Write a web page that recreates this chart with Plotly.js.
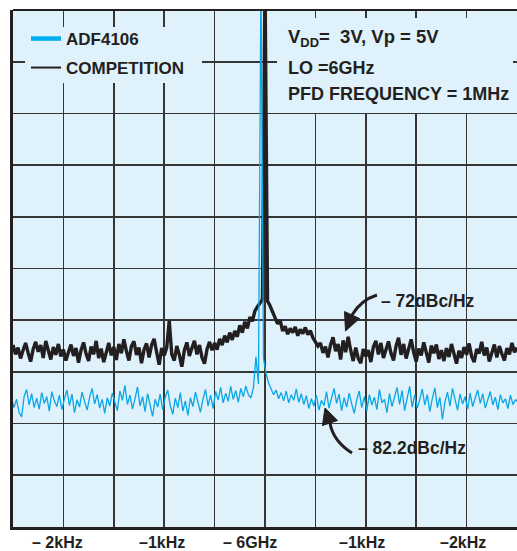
<!DOCTYPE html>
<html>
<head>
<meta charset="utf-8">
<script src="https://cdn.plot.ly/plotly-3.0.1.min.js"></script>
<style>html,body{margin:0;padding:0;background:#fff;}#chart{width:517px;height:551px;}</style>
</head>
<body>
<div id="chart"></div>
<script>
// ---- data ----
const competitionStartHz = -2500;
const adf4106StartHz = -2540;
const sweepStepHz = 25;

const competitionDbc = [
-71.0,-72.8,-71.5,-73.6,-72.0,-70.6,-72.5,-74.2,-71.8,-70.4,
-72.3,-71.0,-73.5,-70.2,-72.0,-73.8,-71.4,-72.9,-70.8,-73.2,
-71.9,-74.0,-72.4,-70.9,-73.1,-71.6,-74.4,-72.0,-70.5,-72.7,
-74.1,-71.3,-72.8,-70.2,-73.5,-71.7,-74.3,-72.1,-70.6,-73.0,
-71.4,-73.9,-70.8,-72.6,-69.9,-72.2,-74.0,-71.2,-70.3,-72.9,
-71.5,-74.5,-71.9,-70.7,-73.4,-71.0,-69.8,-72.4,-74.8,-71.6,
-73.0,-71.5,-66.3,-72.8,-74.0,-71.2,-72.9,-75.2,-72.0,-70.5,
-73.1,-71.6,-70.2,-72.8,-71.0,-73.4,-74.6,-71.8,-70.4,-72.0,
-70.6,-71.9,-69.8,-71.0,-69.2,-70.5,-68.6,-70.0,-68.3,-69.4,
-67.2,-68.6,-66.5,-67.8,-65.6,-66.4,-64.4,-63.6,-62.8,-62.2,
0.0,
-62.5,-63.4,-64.6,-65.8,-66.9,-66.2,-68.3,-67.4,-68.9,-67.8,
-68.6,-67.5,-69.2,-68.0,-68.8,-67.6,-69.0,-68.2,-69.6,-70.4,
-71.2,-70.6,-72.5,-71.3,-73.4,-71.0,-69.5,-72.2,-70.8,-73.8,
-70.1,-72.4,-69.4,-72.0,-74.1,-71.5,-73.6,-74.5,-71.8,-73.2,
-72.0,-74.3,-71.4,-70.2,-72.8,-70.6,-73.5,-71.9,-70.3,-72.6,
-74.0,-71.2,-69.6,-72.9,-70.8,-73.6,-71.5,-69.9,-72.4,-74.2,
-71.7,-73.0,-70.5,-72.8,-74.4,-71.1,-72.6,-70.9,-73.7,-72.0,
-74.1,-71.6,-73.3,-70.8,-72.5,-74.6,-72.1,-73.5,-71.4,-72.9,
-70.7,-73.2,-74.3,-71.8,-72.6,-70.4,-73.0,-71.5,-74.2,-72.3,
-70.9,-73.4,-71.2,-72.7,-74.0,-71.6,-72.8,-70.6,-72.4,-71.5
];

const adf4106Dbc = [
-82.0,-81.2,-83.1,-81.5,-84.0,-84.9,-81.0,-79.6,-82.6,-80.4,
-83.1,-81.3,-83.4,-80.2,-82.3,-81.0,-83.8,-80.0,-81.8,-82.9,
-80.7,-83.5,-81.4,-79.7,-82.7,-80.5,-84.1,-81.6,-83.0,-80.1,
-81.9,-83.6,-81.1,-79.4,-82.4,-80.6,-83.2,-81.5,-84.2,-81.2,
-82.8,-80.3,-82.0,-83.7,-79.9,-81.7,-78.8,-82.5,-80.7,-83.4,
-81.4,-79.1,-82.8,-81.0,-83.9,-80.4,-82.6,-84.8,-81.5,-83.0,
-80.5,-83.5,-81.1,-79.7,-82.7,-84.4,-81.3,-83.1,-80.2,-83.8,
-81.8,-84.6,-81.2,-82.9,-80.1,-82.2,-84.0,-81.4,-79.6,-82.8,
-80.7,-83.3,-80.0,-81.6,-79.2,-82.2,-80.3,-81.9,-79.0,-81.5,
-79.8,-82.1,-79.4,-81.0,-78.9,-80.6,-81.2,-79.3,-73.3,-78.6,
0.0,
-73.6,-76.5,-78.3,-79.5,-80.6,-79.7,-81.4,-80.2,-81.8,-79.9,
-82.2,-80.6,-81.7,-79.5,-82.1,-80.4,-82.5,-80.8,-83.3,-81.4,
-82.8,-80.7,-83.6,-81.7,-82.7,-80.0,-83.2,-81.3,-79.4,-82.3,
-80.5,-83.7,-81.2,-83.0,-80.3,-82.4,-84.2,-81.6,-79.9,-83.1,
-81.0,-83.8,-80.6,-82.6,-81.1,-83.5,-79.6,-82.2,-81.5,-84.1,
-80.4,-82.9,-81.2,-79.2,-82.5,-79.8,-83.7,-81.4,-79.0,-83.0,
-80.7,-83.2,-81.6,-79.5,-82.6,-80.6,-83.9,-81.3,-79.3,-83.1,
-81.1,-85.4,-82.0,-80.1,-82.8,-79.4,-81.8,-83.6,-80.5,-82.4,
-81.0,-83.4,-80.3,-82.9,-81.3,-79.7,-82.3,-80.4,-83.2,-81.5,
-80.0,-82.6,-81.1,-83.5,-80.6,-82.2,-81.4,-83.3,-80.7,-82.5,
-81.6,-82.0
];

const seriesNames = ['ADF4106', 'COMPETITION'];
const tickOffsetsHz = [-2000, -1000, 0, 1000, 2000];
const tickLabels = ['– 2kHz', '–1kHz', '– 6GHz', '–1kHz', '–2kHz'];
const infoLines = ['V<sub>DD</sub>= &nbsp;3V, Vp = 5V', 'LO =6GHz', 'PFD FREQUENCY = 1MHz'];
const noiseLabels = ['– 72dBc/Hz', '– 82.2dBc/Hz'];

// ---- styling ----
const BG = '#dff1fb';
const INK = '#231f20';
const CYAN = '#0aa6e6';
const GRID = '#353535';
const FONT = 'Liberation Sans, Arial, Helvetica, sans-serif';

const X0 = -2500, X1 = 2500, Y0 = -106.2, Y1 = -6.2;
const L = 13, T = 10, W = 504, H = 517;
// pixel -> data helpers for decorations (arrows, boxes, labels)
const dx = px => (px - L) * (X1 - X0) / W + X0;
const dy = py => Y1 - (py - T) * (Y1 - Y0) / H;
const P = (px, py) => dx(px).toFixed(2) + ',' + dy(py).toFixed(3);

const traces = [
  {type: 'scatter', mode: 'lines', name: seriesNames[1], y: competitionDbc,
   x0: competitionStartHz, dx: sweepStepHz,
   line: {color: INK, width: 3.4}, showlegend: false, hoverinfo: 'skip'},
  {type: 'scatter', mode: 'lines', name: seriesNames[0], y: adf4106Dbc,
   x0: adf4106StartHz, dx: sweepStepHz,
   line: {color: CYAN, width: 1.3}, showlegend: false, hoverinfo: 'skip'},
  // legend entries
  {type: 'scatter', mode: 'lines', name: seriesNames[0], x: [null], y: [null],
   line: {color: '#00aeef', width: 4.5}, legend: 'legend'},
  {type: 'scatter', mode: 'lines', name: seriesNames[1], x: [null], y: [null],
   line: {color: INK, width: 2}, legend: 'legend2'}
];

const legendFont = {family: FONT, size: 17, color: INK, weight: 'bold'};

const shapes = [
  // boxes that hide the grid behind the legend and the text block
  {type: 'rect', xref: 'x', yref: 'y', x0: dx(25), x1: dx(202), y0: dy(27), y1: dy(83),
   fillcolor: BG, line: {width: 0}, layer: 'above'},
  {type: 'rect', xref: 'x', yref: 'y', x0: dx(277), x1: dx(513), y0: dy(18), y1: dy(113),
   fillcolor: BG, line: {width: 0}, layer: 'above'},
  // top frame
  {type: 'line', xref: 'paper', yref: 'paper', x0: 0, x1: 1, y0: 1, y1: 1,
   line: {color: INK, width: 2}, layer: 'above'},
  // arrow to -72 dBc/Hz
  {type: 'path', xref: 'x', yref: 'y', path: 'M' + P(377, 295) + ' Q' + P(361, 300) + ' ' + P(352, 315),
   line: {color: INK, width: 3}, layer: 'above'},
  {type: 'path', xref: 'x', yref: 'y', path: 'M' + P(345.5, 331) + ' L' + P(344.5, 311.5) + ' L' + P(359.5, 318.5) + ' Z',
   fillcolor: INK, line: {color: INK, width: 1}, layer: 'above'},
  // arrow to -82.2 dBc/Hz
  {type: 'path', xref: 'x', yref: 'y', path: 'M' + P(352, 453) + ' Q' + P(333, 441) + ' ' + P(330, 423),
   line: {color: INK, width: 3}, layer: 'above'},
  {type: 'path', xref: 'x', yref: 'y', path: 'M' + P(325, 408) + ' L' + P(322.4, 425.5) + ' L' + P(337.6, 420.5) + ' Z',
   fillcolor: INK, line: {color: INK, width: 1}, layer: 'above'}
];

const infoY = [38, 68.3, 93.8];
const annFont = {family: FONT, size: 18, color: INK, weight: 'bold'};
const annotations = infoLines.map((t, i) => ({
  xref: 'x', yref: 'y', x: dx(286), y: dy(infoY[i]), xanchor: 'left', yanchor: 'middle',
  text: t, showarrow: false, font: i === 0 ? Object.assign({}, annFont, {size: 18.5}) : annFont
}));
annotations.push({xref: 'x', yref: 'y', x: dx(379), y: dy(300.5), xanchor: 'left', yanchor: 'middle',
  text: noiseLabels[0], showarrow: false, font: {family: FONT, size: 17.5, color: INK, weight: 'bold'}});
annotations.push({xref: 'x', yref: 'y', x: dx(356), y: dy(448), xanchor: 'left', yanchor: 'middle',
  text: noiseLabels[1], showarrow: false, font: {family: FONT, size: 17.5, color: INK, weight: 'bold'}});

// x-axis labels (placed under their tick positions, nudged as in the original print)
const tickNudgePx = [-6, -2, -15, -3.5, -3.5];
tickOffsetsHz.forEach((v, i) => annotations.push({
  xref: 'x', yref: 'paper', x: v, y: -(542 - (T + H)) / H, xanchor: 'center', yanchor: 'middle',
  xshift: tickNudgePx[i], text: tickLabels[i], showarrow: false,
  font: {family: FONT, size: 16, color: INK, weight: 'bold'}
}));

const gridStyle = {showgrid: true, gridcolor: GRID, gridwidth: 1.7};

const layout = {
  width: 517, height: 551,
  margin: {l: L, r: 517 - L - W, t: T, b: 551 - T - H, pad: 0},
  paper_bgcolor: '#ffffff', plot_bgcolor: BG,
  showlegend: true,
  xaxis: Object.assign({
    range: [X0, X1], tickmode: 'linear', tick0: X0, dtick: 500, showticklabels: false,
    ticks: '', zeroline: false, showline: true, linecolor: INK, linewidth: 3,
    fixedrange: true
  }, gridStyle),
  yaxis: Object.assign({
    range: [Y0, Y1], tickmode: 'linear', tick0: Y1, dtick: 10,
    showticklabels: false, ticks: '', zeroline: false, showline: true, linecolor: INK, linewidth: 3,
    fixedrange: true
  }, gridStyle),
  legend: {x: (26 - L) / W, y: (T + H - 39) / H, xanchor: 'left', yanchor: 'middle',
    bgcolor: 'rgba(0,0,0,0)', borderwidth: 0, font: legendFont},
  legend2: {x: (26 - L) / W, y: (T + H - 68) / H, xanchor: 'left', yanchor: 'middle',
    bgcolor: 'rgba(0,0,0,0)', borderwidth: 0, font: legendFont},
  shapes: shapes,
  annotations: annotations
};

Plotly.newPlot('chart', traces, layout, {displayModeBar: false, staticPlot: true});
</script>
</body>
</html>
